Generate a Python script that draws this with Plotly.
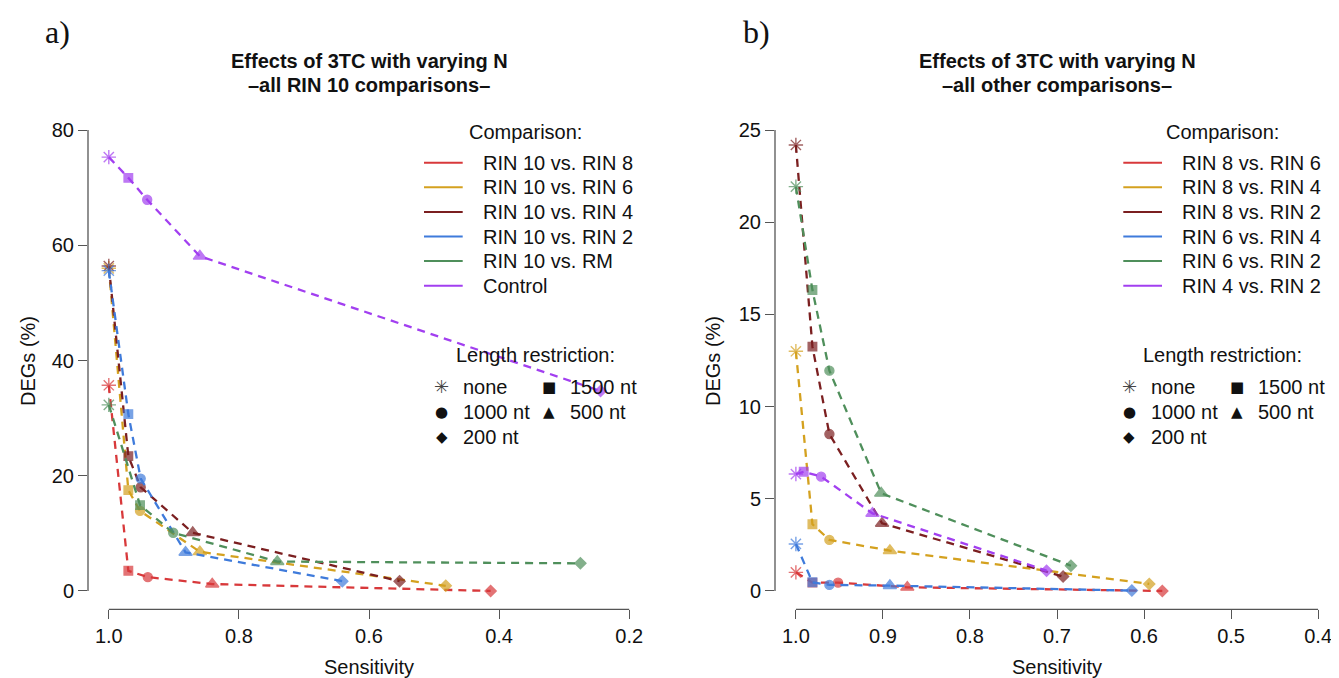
import plotly.graph_objects as go

# the page body has an 8px margin, so the figure is drawn 8px smaller and
# all reference pixel positions are shifted by that offset
OFF = 8
W, H = 1339 - OFF, 678 - OFF

# ---------------- data ----------------
lengths = ["none", "1500 nt", "1000 nt", "500 nt", "200 nt"]

a_names = ["RIN 10 vs. RIN 8", "RIN 10 vs. RIN 6", "RIN 10 vs. RIN 4",
           "RIN 10 vs. RIN 2", "RIN 10 vs. RM", "Control"]
a_sens_rin8 = [1.0, 0.970, 0.940, 0.841, 0.413]
a_degs_rin8 = [35.7, 3.5, 2.4, 1.2, 0.0]
a_sens_rin6 = [1.0, 0.970, 0.952, 0.860, 0.482]
a_degs_rin6 = [56.0, 17.5, 13.9, 6.8, 0.9]
a_sens_rin4 = [1.0, 0.970, 0.951, 0.871, 0.553]
a_degs_rin4 = [56.4, 23.4, 18.0, 10.1, 1.7]
a_sens_rin2 = [1.0, 0.970, 0.951, 0.882, 0.641]
a_degs_rin2 = [55.6, 30.7, 19.5, 6.7, 1.7]
a_sens_rm = [1.0, 0.952, 0.901, 0.741, 0.275]
a_degs_rm = [32.3, 14.9, 10.1, 5.1, 4.8]
a_sens_ctrl = [1.0, 0.970, 0.941, 0.860, 0.244]
a_degs_ctrl = [75.3, 71.7, 67.9, 58.1, 34.7]

b_names = ["RIN 8 vs. RIN 6", "RIN 8 vs. RIN 4", "RIN 8 vs. RIN 2",
           "RIN 6 vs. RIN 4", "RIN 6 vs. RIN 2", "RIN 4 vs. RIN 2"]
b_sens_86 = [1.0, 0.981, 0.9515, 0.872, 0.579]
b_degs_86 = [1.01, 0.45, 0.45, 0.20, 0.0]
b_sens_84 = [1.0, 0.981, 0.9615, 0.892, 0.594]
b_degs_84 = [13.0, 3.62, 2.77, 2.19, 0.38]
b_sens_82 = [1.0, 0.981, 0.9615, 0.901, 0.693]
b_degs_82 = [24.19, 13.25, 8.51, 3.67, 0.78]
b_sens_64 = [1.0, 0.981, 0.9615, 0.892, 0.614]
b_degs_64 = [2.55, 0.47, 0.33, 0.29, 0.02]
b_sens_62 = [1.0, 0.981, 0.9615, 0.902, 0.684]
b_degs_62 = [21.93, 16.32, 11.95, 5.30, 1.37]
b_sens_42 = [1.0, 0.991, 0.971, 0.912, 0.712]
b_degs_42 = [6.34, 6.47, 6.20, 4.21, 1.10]

a_xticks = [1.0, 0.8, 0.6, 0.4, 0.2]
a_yticks = [0, 20, 40, 60, 80]
b_xticks = [1.0, 0.9, 0.8, 0.7, 0.6, 0.5, 0.4]
b_yticks = [0, 5, 10, 15, 20, 25]

# ---------------- styles ----------------
colors = ["#d8393b", "#d4a11f", "#7b1f20", "#3f7bdb", "#4f8f5b", "#a23ff0"]
sym = {"none": "asterisk-open", "1500 nt": "square", "1000 nt": "circle",
       "500 nt": "triangle-up", "200 nt": "diamond"}
msize = {"none": 12, "1500 nt": 8.5, "1000 nt": 9, "500 nt": 11.5, "200 nt": 8.5}
FONT = "Liberation Sans, Arial, Helvetica, sans-serif"
AX = "#555555"


def px(x):
    return (x - OFF) / W


def py(y):
    return 1 - (y - OFF) / H


fig = go.Figure()

a_data = [(a_sens_rin8, a_degs_rin8), (a_sens_rin6, a_degs_rin6),
          (a_sens_rin4, a_degs_rin4), (a_sens_rin2, a_degs_rin2),
          (a_sens_rm, a_degs_rm), (a_sens_ctrl, a_degs_ctrl)]
b_data = [(b_sens_86, b_degs_86), (b_sens_84, b_degs_84),
          (b_sens_82, b_degs_82), (b_sens_64, b_degs_64),
          (b_sens_62, b_degs_62), (b_sens_42, b_degs_42)]

for data, names, xa, ya in [(a_data, a_names, "x", "y"), (b_data, b_names, "x2", "y2")]:
    for (xs, ys), name, c in zip(data, names, colors):
        fig.add_trace(go.Scatter(
            x=xs, y=ys, mode="lines+markers", name=name, xaxis=xa, yaxis=ya,
            line=dict(color=c, width=2.3, dash="8px,6px"),
            marker=dict(symbol=[sym[l] for l in lengths],
                        size=[msize[l] for l in lengths],
                        color=c, line=dict(color=c, width=1.4)),
            showlegend=False, hoverinfo="skip"))

ydom = [py(609.4), py(111.6)]
common_x = dict(showgrid=False, zeroline=False, showline=False, ticks="outside",
                ticklen=9, tickwidth=1.2, tickcolor=AX,
                tickfont=dict(family=FONT, size=20, color="#111"))
fig.update_layout(
    width=W, height=H, margin=dict(l=0, r=0, t=0, b=0),
    paper_bgcolor="white", plot_bgcolor="white",
    xaxis=dict(domain=[px(88), px(650)], range=[1.032, 0.168], anchor="y",
               tickvals=a_xticks, ticktext=[f"{v:.1f}" for v in a_xticks], **common_x),
    yaxis=dict(domain=ydom, range=[-3.2, 83.2], anchor="x",
               tickvals=a_yticks, **common_x),
    xaxis2=dict(domain=[px(775), 1.0], range=[1.024, 0.376], anchor="y2",
                tickvals=b_xticks, ticktext=[f"{v:.1f}" for v in b_xticks], **common_x),
    yaxis2=dict(domain=ydom, range=[-1.0, 26.0], anchor="x2",
                tickvals=b_yticks, **common_x),
)

# R-style axis lines spanning first to last tick
shapes = [
    dict(type="line", xref="x", yref="y domain", x0=a_xticks[0], x1=a_xticks[-1], y0=0, y1=0,
         line=dict(color=AX, width=1.3)),
    dict(type="line", xref="x domain", yref="y", x0=0, x1=0, y0=a_yticks[0], y1=a_yticks[-1],
         line=dict(color=AX, width=1.3)),
    dict(type="line", xref="x2", yref="y2 domain", x0=b_xticks[0], x1=b_xticks[-1], y0=0, y1=0,
         line=dict(color=AX, width=1.3)),
    dict(type="line", xref="x2 domain", yref="y2", x0=0, x1=0, y0=b_yticks[0], y1=b_yticks[-1],
         line=dict(color=AX, width=1.3)),
]

ann = []


def text(x, y, s, size=20, xanchor="center", family=FONT, angle=0, color="#111"):
    ann.append(dict(x=px(x), y=py(y), xref="paper", yref="paper", text=s, showarrow=False,
                    xanchor=xanchor, yanchor="middle", textangle=angle,
                    font=dict(family=family, size=size, color=color)))


# panel labels and titles
text(57, 32, "a)", size=32, family="Liberation Serif, DejaVu Serif, serif")
text(757, 32, "b)", size=32, family="Liberation Serif, DejaVu Serif, serif")
text(369, 61, "<b>Effects of 3TC with varying N</b>")
text(369, 85, "<b>–all RIN 10 comparisons–</b>")
text(1057, 61, "<b>Effects of 3TC with varying N</b>")
text(1057, 85, "<b>–all other comparisons–</b>")
text(369, 667, "Sensitivity")
text(1057, 667, "Sensitivity")
text(28, 361, "DEGs (%)", angle=-90)
text(713, 361, "DEGs (%)", angle=-90)

# legends
for names, dx, cx in [(a_names, 0, 525), (b_names, 699.3, 1222)]:
    text(cx, 132, "Comparison:")
    for i, (nm, c) in enumerate(zip(names, colors)):
        yy = 162.7 + 24.6 * i
        shapes.append(dict(type="line", xref="paper", yref="paper",
                           x0=px(424 + dx), x1=px(462.7 + dx), y0=py(yy), y1=py(yy),
                           line=dict(color=c, width=2)))
        text(481 + dx, yy, nm, xanchor="left")

for dx in [0, 687.7]:
    text(535 + dx, 355, "Length restriction:")
    rows = [(386.7, "✳", "none", "■", "1500 nt"),
            (411.7, "●", "1000 nt", "▲", "500 nt"),
            (436.5, "◆", "200 nt", None, None)]
    for yy, s1, t1, s2, t2 in rows:
        text(441.7 + dx, yy, s1, size=15 if s1 != "✳" else 18,
             family="DejaVu Sans", color="#111" if s1 != "✳" else "#444")
        text(461 + dx, yy, t1, xanchor="left")
        if s2:
            text(549 + dx, yy, s2, size=15, family="DejaVu Sans")
            text(568.3 + dx, yy, t2, xanchor="left")

fig.update_layout(shapes=shapes, annotations=ann)
fig.write_html("out.html")
